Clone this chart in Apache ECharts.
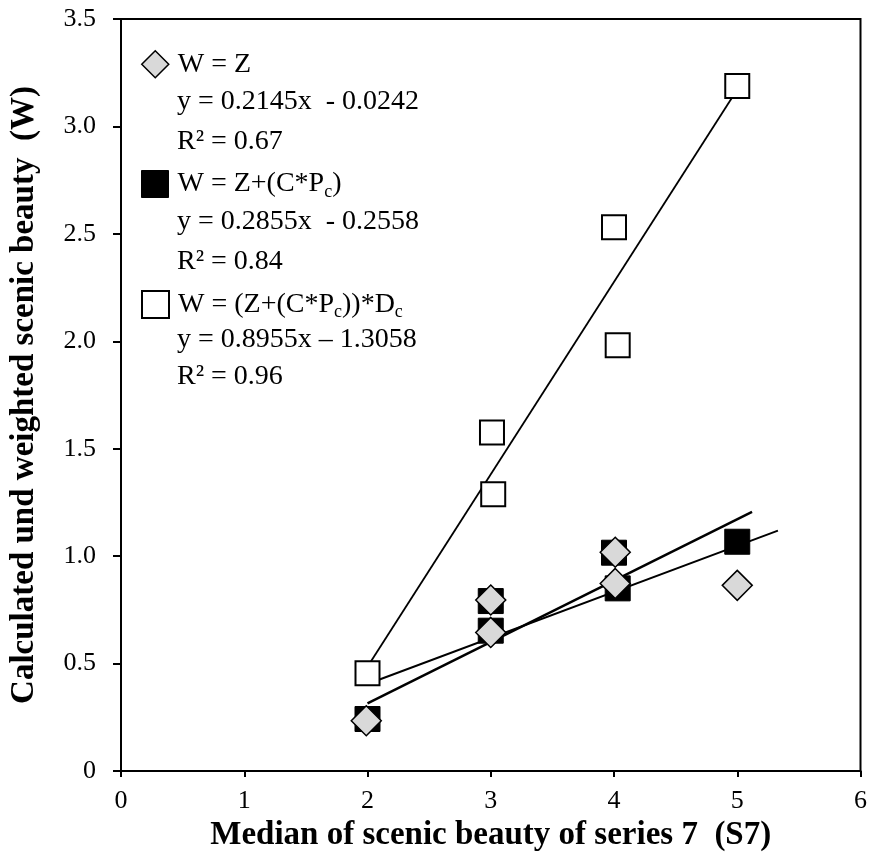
<!DOCTYPE html>
<html>
<head>
<meta charset="utf-8">
<script src="https://cdn.jsdelivr.net/npm/echarts@6/dist/echarts.min.js"></script>
<style>html,body{margin:0;padding:0;background:#fff}#c{width:870px;height:857px}</style>
</head>
<body>
<div id="c"></div>
<script>
// ---- data ----
const seriesNames = ['W = Z', 'W = Z+(C*P{sub|c})', 'W = (Z+(C*P{sub|c}))*D{sub|c}'];
const pointsZ   = [[1.99,0.234],[3.0,0.796],[3.0,0.645],[4.01,1.018],[4.01,0.873],[5.0,0.864]];
const pointsZC  = [[2.0,0.242],[3.0,0.791],[3.0,0.653],[4.0,1.016],[4.03,0.850],[5.0,1.067]];
const pointsZCD = [[2.0,0.455],[3.01,1.576],[3.02,1.288],[4.0,2.531],[4.03,1.982],[5.0,3.188]];
const trendZ   = [[2.0,0.405],[5.33,1.119]];
const trendZC  = [[2.0,0.315],[5.12,1.206]];
const trendZCD = [[2.0,0.485],[5.0,3.172]];
const equations = [
  ['y = 0.2145x  - 0.0242', 'R² = 0.67'],
  ['y = 0.2855x  - 0.2558', 'R² = 0.84'],
  ['y = 0.8955x – 1.3058', 'R² = 0.96']
];
const xTicks = [0,1,2,3,4,5,6];
const yTicks = [0,0.5,1.0,1.5,2.0,2.5,3.0,3.5];

const FONT = '"Liberation Serif","Times New Roman",serif';
const chart = echarts.init(document.getElementById('c'), null, {renderer:'canvas'});

const itemCenters = [63, 183, 303];
const eqCenters = [[101.5, 141.5], [221.5, 261.5], [340, 376.5]];
const textX = 177;
const graphics = [];
equations.forEach((eq, i) => {
  eq.forEach((t, j) => {
    graphics.push({
      type:'text', x:textX, y:eqCenters[i][j],
      style:{text:t, font:'28px ' + FONT, fill:'#000', verticalAlign:'middle', align:'left'}
    });
  });
});

const legendStyles = [
  {icon:'diamond', itemStyle:{color:'#d9d9d9', borderColor:'#000', borderWidth:1.5}},
  {icon:'rect', itemStyle:{color:'#000', borderColor:'#000', borderWidth:1}},
  {icon:'rect', itemStyle:{color:'#fff', borderColor:'#000', borderWidth:2}}
];
const legends = seriesNames.map((n, i) => ({
  orient:'vertical', left:141, top:itemCenters[i] - 13, padding:0, itemWidth:27, itemHeight:27,
  selectedMode:false,
  data:[Object.assign({name:n}, legendStyles[i])],
  textStyle:{fontFamily:FONT, fontSize:28, color:'#000', padding:[0,0,0,4],
    rich:{sub:{fontFamily:FONT, fontSize:18, color:'#000', verticalAlign:'bottom', padding:[16,0,0,0]}}}
}));

chart.setOption({
  animation:false,
  backgroundColor:'#fff',
  grid:{left:118, top:19, right:7, bottom:86, show:true, borderColor:'#000', borderWidth:2},
  xAxis:{
    type:'value', min:xTicks[0], max:xTicks[xTicks.length-1], interval:1,
    name:'Median of scenic beauty of series 7  (S7)', nameLocation:'middle', nameGap:43,
    nameTextStyle:{fontFamily:FONT, fontWeight:'bold', fontSize:33, color:'#000'},
    axisLine:{show:true, lineStyle:{color:'#000', width:2}},
    axisTick:{show:true, length:6, lineStyle:{color:'#000', width:2}},
    axisLabel:{fontFamily:FONT, fontSize:26, color:'#000', margin:17},
    splitLine:{show:false}
  },
  yAxis:{
    type:'value', min:yTicks[0], max:yTicks[yTicks.length-1], interval:0.5,
    name:'Calculated und weighted scenic beauty  (W)', nameLocation:'middle', nameGap:80,
    nameTextStyle:{fontFamily:FONT, fontWeight:'bold', fontSize:33, color:'#000'},
    axisLine:{show:true, lineStyle:{color:'#000', width:2}},
    axisTick:{show:true, length:8, lineStyle:{color:'#000', width:2}},
    axisLabel:{fontFamily:FONT, fontSize:26, color:'#000', margin:25,
      formatter:v => v === 0 ? '0' : v.toFixed(1)},
    splitLine:{show:false}
  },
  legend:legends,
  graphic:graphics,
  series:[
    {name:'t3', type:'line', data:trendZCD, symbol:'none', silent:true, z:1,
      lineStyle:{color:'#000', width:1.8}},
    {name:'t1', type:'line', data:trendZ, symbol:'none', silent:true, z:1,
      lineStyle:{color:'#000', width:2}},
    {name:'t2', type:'line', data:trendZC, symbol:'none', silent:true, z:1,
      lineStyle:{color:'#000', width:2.5}},
    {name:seriesNames[1], type:'scatter', data:pointsZC, symbol:'rect', symbolSize:25, z:3,
      itemStyle:{color:'#000', borderColor:'#000', borderWidth:1, opacity:1}},
    {name:seriesNames[0], type:'scatter', data:pointsZ, symbol:'diamond', symbolSize:30, z:4,
      itemStyle:{color:'#d9d9d9', borderColor:'#000', borderWidth:1.5, opacity:1}},
    {name:seriesNames[2], type:'scatter', data:pointsZCD, symbol:'rect', symbolSize:24, z:5,
      itemStyle:{color:'#fff', borderColor:'#000', borderWidth:2, opacity:1}}
  ]
});
</script>
</body>
</html>
